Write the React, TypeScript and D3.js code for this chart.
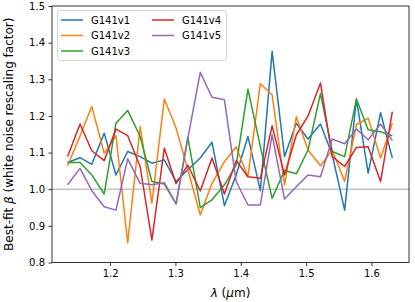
import React, { useEffect, useRef } from "react";
import * as d3 from "d3";

// wavelength grid (micron)
const wavelengths = [
  1.135, 1.154, 1.172, 1.191, 1.209, 1.227, 1.246, 1.264, 1.283, 1.301,
  1.319, 1.338, 1.356, 1.375, 1.393, 1.411, 1.43, 1.448, 1.467, 1.485,
  1.503, 1.522, 1.54, 1.559, 1.577, 1.595, 1.614, 1.632,
];

const g141v1 = [
  1.073, 1.086, 1.068, 1.153, 1.039, 1.103, 1.089, 1.071, 1.08, 1.021,
  1.053, 1.085, 1.128, 0.955, 1.039, 1.144, 0.996, 1.376, 1.089, 1.18,
  1.137, 1.178, 1.094, 0.943, 1.246, 1.044, 1.209, 1.085,
];
const g141v2 = [
  1.064, 1.145, 1.226, 1.098, 1.146, 0.854, 1.171, 0.962, 1.246, 1.167,
  1.053, 0.93, 1.016, 1.075, 1.116, 1.034, 1.288, 1.258, 1.012, 1.198,
  1.107, 1.064, 1.107, 1.021, 1.176, 1.194, 1.085, 1.18,
];
const g141v3 = [
  1.073, 1.073, 1.039, 0.987, 1.18, 1.215, 1.144, 1.021, 1.014, 0.96,
  1.142, 0.95, 0.971, 1.012, 1.066, 1.273, 1.116, 0.975, 1.051, 1.042,
  1.107, 1.261, 1.103, 1.089, 1.246, 1.162, 1.157, 1.146,
];
const g141v4 = [
  1.089, 1.178, 1.105, 1.078, 1.164, 1.146, 1.062, 0.861, 1.112, 1.015,
  1.066, 0.995, 1.085, 0.987, 1.078, 1.034, 1.03, 1.173, 1.039, 1.148,
  1.2, 1.29, 1.089, 1.062, 1.114, 1.116, 1.021, 1.212,
];
const g141v5 = [
  1.012, 1.057, 0.996, 0.952, 0.943, 1.083, 1.016, 1.012, 1.018, 0.96,
  1.139, 1.319, 1.251, 1.244, 1.021, 0.957, 0.957, 1.148, 0.973, 1.007,
  1.039, 1.034, 1.137, 1.124, 1.164, 1.135, 1.178, 1.133,
];

const seriesNames = ["G141v1", "G141v2", "G141v3", "G141v4", "G141v5"];
const seriesValues = [g141v1, g141v2, g141v3, g141v4, g141v5];
const seriesColors = ["#1f77b4", "#ff7f0e", "#2ca02c", "#d62728", "#9467bd"];

const xTicks = [1.2, 1.3, 1.4, 1.5, 1.6];
const yTicks = [0.8, 0.9, 1.0, 1.1, 1.2, 1.3, 1.4, 1.5];

const W = 415;
const H = 302;
const FONT = "DejaVu Sans, sans-serif";

const App: React.FC = () => {
  const svgRef = useRef<SVGSVGElement>(null);

  useEffect(() => {
    if (!svgRef.current) return;
    const margin = { top: 6, right: 6, bottom: 39.5, left: 52 };
    const width = W - margin.left - margin.right;
    const height = H - margin.top - margin.bottom;

    const svg = d3.select(svgRef.current);
    svg.selectAll("*").remove();

    const g = svg.append("g").attr("transform", `translate(${margin.left},${margin.top})`);

    const x = d3.scaleLinear().domain([1.1111, 1.6575]).range([0, width]);
    const y = d3.scaleLinear().domain([0.8, 1.5]).range([height, 0]);

    // reference line at beta = 1
    g.append("line")
      .attr("x1", 0)
      .attr("x2", width)
      .attr("y1", y(1))
      .attr("y2", y(1))
      .attr("stroke", "#c4c4c4")
      .attr("stroke-width", 1.5);

    const line = d3
      .line<number>()
      .x((_, i) => x(wavelengths[i]))
      .y((d) => y(d));

    seriesValues.forEach((vals, k) => {
      g.append("path")
        .datum(vals)
        .attr("fill", "none")
        .attr("stroke", seriesColors[k])
        .attr("stroke-width", 1.5)
        .attr("stroke-linejoin", "round")
        .attr("d", line);
    });

    // axes
    const xAxis = g
      .append("g")
      .attr("transform", `translate(0,${height})`)
      .call(d3.axisBottom(x).tickValues(xTicks).tickFormat(d3.format(".1f")).tickSize(3.5).tickPadding(3.5));
    const yAxis = g
      .append("g")
      .call(d3.axisLeft(y).tickValues(yTicks).tickFormat(d3.format(".1f")).tickSize(3.5).tickPadding(3.5));

    [xAxis, yAxis].forEach((ax) => {
      ax.select(".domain").remove();
      ax.selectAll("line").attr("stroke", "#000").attr("stroke-width", 0.8);
      ax.selectAll("text").attr("font-family", FONT).attr("font-size", 10).attr("fill", "#000");
    });

    // frame
    g.append("rect")
      .attr("x", 0)
      .attr("y", 0)
      .attr("width", width)
      .attr("height", height)
      .attr("fill", "none")
      .attr("stroke", "#000")
      .attr("stroke-width", 0.8);

    // legend
    const lg = svg.append("g");
    lg.append("rect")
      .attr("x", 57.5)
      .attr("y", 10.5)
      .attr("width", 169)
      .attr("height", 50)
      .attr("rx", 2.5)
      .attr("fill", "#fff")
      .attr("fill-opacity", 0.8)
      .attr("stroke", "#cccccc")
      .attr("stroke-width", 0.8);

    const rowY = [20, 35.5, 51];
    seriesNames.forEach((name, i) => {
      const col = i < 3 ? 0 : 1;
      const row = i < 3 ? i : i - 3;
      const x0 = col === 0 ? 61 : 152;
      const yy = rowY[row];
      lg.append("line")
        .attr("x1", x0)
        .attr("x2", x0 + 22)
        .attr("y1", yy)
        .attr("y2", yy)
        .attr("stroke", seriesColors[i])
        .attr("stroke-width", 1.5);
      lg.append("text")
        .attr("x", x0 + 30)
        .attr("y", yy)
        .attr("dy", "0.35em")
        .attr("font-family", FONT)
        .attr("font-size", 10)
        .text(name);
    });

    // axis labels
    const xl = svg
      .append("text")
      .attr("x", margin.left + width / 2)
      .attr("y", 297)
      .attr("text-anchor", "middle")
      .attr("font-family", FONT)
      .attr("font-size", 12);
    xl.append("tspan").attr("font-style", "italic").text("λ");
    xl.append("tspan").text(" (");
    xl.append("tspan").attr("font-style", "italic").text("μ");
    xl.append("tspan").text("m)");

    const yl = svg
      .append("text")
      .attr("transform", `translate(13,${margin.top + height / 2}) rotate(-90)`)
      .attr("text-anchor", "middle")
      .attr("font-family", FONT)
      .attr("font-size", 12);
    yl.append("tspan").text("Best-fit ");
    yl.append("tspan").attr("font-style", "italic").text("β");
    yl.append("tspan").text(" (white noise rescaling factor)");
  }, []);

  return (
    <svg
      ref={svgRef}
      width={W}
      height={H}
      style={{ position: "absolute", top: 0, left: 0, background: "#fff" }}
    />
  );
};

export default App;
